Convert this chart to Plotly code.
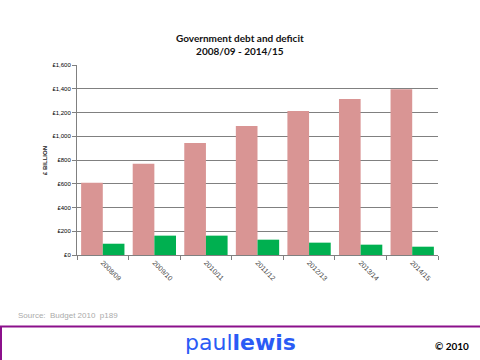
import plotly.graph_objects as go

years = ["2008/09", "2009/10", "2010/11", "2011/12", "2012/13", "2013/14", "2014/15"]
debt = [608, 768, 944, 1087, 1213, 1314, 1395]
deficit = [95, 163, 163, 129, 104, 87, 70]

W, H = 480, 360
L, R, T, B = 77, 42, 65, 105
pw, ph = W - L - R, H - T - B

def px(x):
    return (x - L) / pw

def py(y):
    return (H - B - y) / ph

fig = go.Figure()
fig.add_trace(go.Bar(x=years, y=debt, name="Debt", marker=dict(color="#D99594", line=dict(width=0))))
fig.add_trace(go.Bar(x=years, y=deficit, name="Deficit", marker=dict(color="#00B050", line=dict(width=0))))

fig.update_layout(
    width=W, height=H,
    margin=dict(l=L, r=R, t=T, b=B),
    paper_bgcolor="white", plot_bgcolor="white",
    barmode="group", bargap=0.16, bargroupgap=0,
    showlegend=False,
    font=dict(family="Liberation Sans, Arial", color="#333"),
    xaxis=dict(
        type="category", tickson="boundaries", ticks="outside", ticklen=4,
        tickcolor="#808080", showline=True, linecolor="#808080", linewidth=1,
        tickangle=45, tickfont=dict(size=7, color="#444"), showgrid=False,
    ),
    yaxis=dict(
        range=[0, 1600], dtick=200, tickprefix="£", tickformat=",",
        ticks="outside", ticklen=4, tickcolor="#808080",
        showline=True, linecolor="#808080", linewidth=1,
        showgrid=True, gridcolor="#808080", gridwidth=1,
        tickfont=dict(size=6, color="#000"), zeroline=False,
    ),
    annotations=[
        dict(text="<b>Government debt and deficit</b><br><b>2008/09 - 2014/15</b>",
             xref="paper", yref="paper", x=px(240), y=py(44), xanchor="center", yanchor="middle",
             showarrow=False,
             font=dict(size=10, family="Lato, Liberation Sans", color="#111"), align="center"),
        dict(text="<b>£ BILLION</b>", xref="paper", yref="paper", x=px(45), y=py(161),
             xanchor="center", yanchor="middle",
             textangle=-90, showarrow=False, font=dict(size=6, color="#222")),
        dict(text="Source:  Budget 2010  p189", xref="paper", yref="paper",
             x=px(16), y=py(315), xanchor="left", yanchor="middle", showarrow=False,
             font=dict(size=8, color="#AAAAAA", family="Liberation Sans, Arial")),
        dict(text="paul<b>lewis</b>", xref="paper", yref="paper", x=px(240), y=py(342),
             xanchor="center", yanchor="middle",
             showarrow=False, font=dict(size=22, color="#2B5BF5", family="DejaVu Sans")),
        dict(text="<b>© 2010</b>", xref="paper", yref="paper", x=px(452), y=py(346),
             xanchor="center", yanchor="middle",
             showarrow=False, font=dict(size=10, color="#000", family="Lato, Liberation Sans")),
    ],
    shapes=[
        dict(type="line", xref="paper", yref="paper", x0=px(0), x1=px(480), y0=py(326.5), y1=py(326.5),
             line=dict(color="#8B108B", width=2)),
        dict(type="line", xref="paper", yref="paper", x0=px(1), x1=px(1), y0=py(326), y1=py(362),
             line=dict(color="#8B108B", width=2)),
    ],
)

fig.write_html("out.html", config={"displayModeBar": False},
               post_script="document.body.style.margin='0';document.body.style.overflow='hidden';")
